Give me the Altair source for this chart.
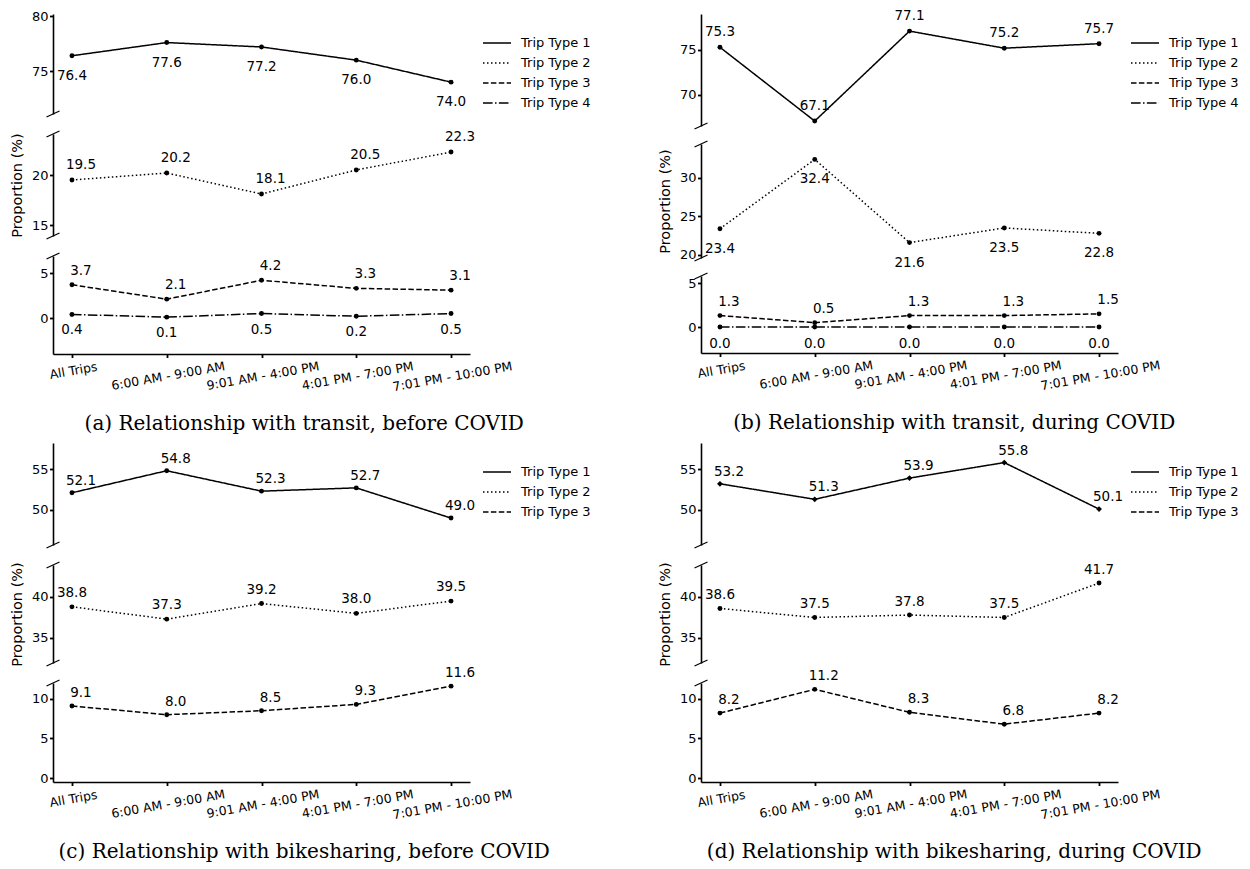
import altair as alt
import pandas as pd

# ---------------- data ----------------
CATEGORIES = ["All Trips", "6:00 AM - 9:00 AM", "9:01 AM - 4:00 PM",
              "4:01 PM - 7:00 PM", "7:01 PM - 10:00 PM"]
TRIP_TYPES = ["Trip Type 1", "Trip Type 2", "Trip Type 3", "Trip Type 4"]

# (a) transit, before COVID
transit_before_type1 = [76.4, 77.6, 77.2, 76.0, 74.0]
transit_before_type2 = [19.5, 20.2, 18.1, 20.5, 22.3]
transit_before_type3 = [3.7, 2.1, 4.2, 3.3, 3.1]
transit_before_type4 = [0.4, 0.1, 0.5, 0.2, 0.5]
# (b) transit, during COVID
transit_during_type1 = [75.3, 67.1, 77.1, 75.2, 75.7]
transit_during_type2 = [23.4, 32.4, 21.6, 23.5, 22.8]
transit_during_type3 = [1.3, 0.5, 1.3, 1.3, 1.5]
transit_during_type4 = [0.0, 0.0, 0.0, 0.0, 0.0]
# (c) bikesharing, before COVID
bike_before_type1 = [52.1, 54.8, 52.3, 52.7, 49.0]
bike_before_type2 = [38.8, 37.3, 39.2, 38.0, 39.5]
bike_before_type3 = [9.1, 8.0, 8.5, 9.3, 11.6]
# (d) bikesharing, during COVID
bike_during_type1 = [53.2, 51.3, 53.9, 55.8, 50.1]
bike_during_type2 = [38.6, 37.5, 37.8, 37.5, 41.7]
bike_during_type3 = [8.2, 11.2, 8.3, 6.8, 8.2]

CAPTIONS = ["(a) Relationship with transit, before COVID",
            "(b) Relationship with transit, during COVID",
            "(c) Relationship with bikesharing, before COVID",
            "(d) Relationship with bikesharing, during COVID"]

# ---------------- style ----------------
FONT = "DejaVu Sans"
SERIF = "DejaVu Serif"
DASH = {"Trip Type 1": [1, 0], "Trip Type 2": [1.5, 2.5],
        "Trip Type 3": [5.5, 2.4], "Trip Type 4": [9.6, 2.4, 1.5, 2.4]}
W = 417
ABOVE, ABOVE_R = (0, -14), (9, -14)


def frame(series):
    rows = []
    for t, vals in series.items():
        for c, v in zip(CATEGORIES, vals):
            rows.append({"cat": c, "value": v, "type": t})
    return pd.DataFrame(rows)


def subplot(df, types, all_types, domain, ticks, height, pos, offsets,
            shapes, ytitle=False, legend=False):
    d = df[df["type"].isin(types)]
    if pos == "bottom":
        x_axis = alt.Axis(title=None, labelAngle=-10, labelAlign="center",
                          labelBaseline="top",
                          labelPadding=alt.ExprRef("7 + 0.65*(length(datum.label) - 9)"),
                          labelFontSize=12.5, labelOverlap=False)
    else:
        x_axis = None
    y_axis = alt.Axis(values=ticks, title="Proportion (%)" if ytitle else None,
                      titlePadding=7, titleFontSize=14.5)
    base = alt.Chart(d).encode(
        x=alt.X("cat:N", sort=CATEGORIES,
                scale=alt.Scale(type="point", domain=CATEGORIES, padding=0.2),
                axis=x_axis),
        y=alt.Y("value:Q", scale=alt.Scale(domain=domain, nice=False, zero=False),
                axis=y_axis),
    )
    if legend:
        leg = alt.Legend(title=None, orient="none", legendX=W + 12, legendY=20,
                         symbolType="stroke", symbolSize=784, symbolStrokeWidth=1.5,
                         symbolStrokeColor="black", labelFont=FONT, labelFontSize=13,
                         labelColor="black", labelOffset=9, clipHeight=18,
                         rowPadding=2, padding=0)
    else:
        leg = None
    line = base.mark_line(color="black", strokeWidth=1.5).encode(
        strokeDash=alt.StrokeDash("type:N",
                                  scale=alt.Scale(domain=all_types,
                                                  range=[DASH[t] for t in all_types]),
                                  legend=leg))
    layers = [line]
    for t in types:
        sub = base.transform_filter(alt.datum.type == t)
        layers.append(sub.mark_point(filled=True, color="black", opacity=1,
                                     size=24 if shapes[t] == "circle" else 34,
                                     shape=shapes[t]))
        dx, dy = offsets[t]
        layers.append(sub.mark_text(dx=dx, dy=dy, font=FONT, fontSize=13.5,
                                    color="black").encode(
            text=alt.Text("value:Q", format=".1f")))
    # axis-break marks on the y spine
    marks = pd.DataFrame({"k": [0]})
    ends = []
    if pos in ("top", "middle"):
        ends.append(height)
    if pos in ("middle", "bottom"):
        ends.append(0)
    for e in ends:
        layers.append(alt.Chart(marks).mark_rule(color="black", strokeWidth=1.2).encode(
            x=alt.value(-6.5), x2=alt.value(6.5), y=alt.value(e + 3), y2=alt.value(e - 3)))
    return alt.layer(*layers).properties(width=W, height=height)


def panel(series, groups, domains, ticks, heights, offsets, shapes, caption,
          cap_dx, spacing):
    df = frame(series)
    all_types = list(series.keys())
    posn = ["top", "middle", "bottom"]
    subs = []
    for i in range(3):
        subs.append(subplot(df, groups[i], all_types, domains[i], ticks[i],
                            heights[i], posn[i], offsets, shapes,
                            ytitle=(i == 1), legend=(i == 0)))
    return alt.vconcat(*subs, spacing=spacing, bounds="flush").resolve_scale(
        x="independent", y="independent", strokeDash="independent"
    ).properties(title=alt.TitleParams(caption, orient="bottom", anchor="middle",
                                       font=SERIF, fontSize=20, fontWeight="normal",
                                       color="black", offset=21, dx=cap_dx))


circles = {t: "circle" for t in TRIP_TYPES}

pa = panel({"Trip Type 1": transit_before_type1, "Trip Type 2": transit_before_type2,
            "Trip Type 3": transit_before_type3, "Trip Type 4": transit_before_type4},
           [["Trip Type 1"], ["Trip Type 2"], ["Trip Type 3", "Trip Type 4"]],
           [[71.1, 80.2], [13.9, 24.1], [-4.0, 6.9]],
           [[75, 80], [15, 20], [0, 5]], [100, 102, 98],
           {"Trip Type 1": (0, 20), "Trip Type 2": (9, -15), "Trip Type 3": ABOVE_R,
            "Trip Type 4": (0, 16)},
           circles, CAPTIONS[0], 4, 20)

pb = panel({"Trip Type 1": transit_during_type1, "Trip Type 2": transit_during_type2,
            "Trip Type 3": transit_during_type3, "Trip Type 4": transit_during_type4},
           [["Trip Type 1"], ["Trip Type 2"], ["Trip Type 3", "Trip Type 4"]],
           [[66.55, 79.0], [19.6, 34.4], [-2.95, 5.8]],
           [[70, 75], [20, 25, 30], [0, 5]], [112, 114, 77],
           {"Trip Type 1": (0, -15), "Trip Type 2": (0, 20), "Trip Type 3": ABOVE_R,
            "Trip Type 4": (0, 17)},
           circles, CAPTIONS[1], 6, 18)

pc = panel({"Trip Type 1": bike_before_type1, "Trip Type 2": bike_before_type2,
            "Trip Type 3": bike_before_type3},
           [["Trip Type 1"], ["Trip Type 2"], ["Trip Type 3"]],
           [[45.7, 58.2], [31.95, 43.9], [-0.5, 12.0]],
           [[50, 55], [35, 40], [0, 5, 10]], [102, 98, 99],
           {"Trip Type 1": (9, -12), "Trip Type 2": ABOVE, "Trip Type 3": (9, -13)},
           circles, CAPTIONS[2], 4, 20)

shapes_d = dict(circles)
shapes_d["Trip Type 1"] = "diamond"
pd_ = panel({"Trip Type 1": bike_during_type1, "Trip Type 2": bike_during_type2,
             "Trip Type 3": bike_during_type3},
            [["Trip Type 1"], ["Trip Type 2"], ["Trip Type 3"]],
            [[45.7, 58.2], [31.95, 43.9], [-0.5, 12.0]],
            [[50, 55], [35, 40], [0, 5, 10]], [102, 98, 99],
            {"Trip Type 1": (9, -12), "Trip Type 2": (0, -13), "Trip Type 3": (9, -13)},
            shapes_d, CAPTIONS[3], 6, 20)

row1 = alt.hconcat(pa, pb, spacing=66).resolve_scale(
    x="independent", y="independent", strokeDash="independent")
row2 = alt.hconcat(pc, pd_, spacing=66).resolve_scale(
    x="independent", y="independent", strokeDash="independent")

chart = alt.vconcat(row1, row2, spacing=8).resolve_scale(
    x="independent", y="independent", strokeDash="independent"
).properties(
    padding={"left": 1, "top": 1, "right": 0, "bottom": 0}
).configure_view(stroke=None).configure_axis(
    domainColor="black", domainWidth=1.6, tickColor="black", tickWidth=1.8,
    tickSize=3.5, labelColor="black", labelFont=FONT, labelFontSize=13,
    labelPadding=1.5, titleFont=FONT, titleFontSize=13, titleFontWeight="normal",
    titleColor="black", grid=False
)

chart.save("out.html", embed_options={"renderer": "svg", "actions": False})
